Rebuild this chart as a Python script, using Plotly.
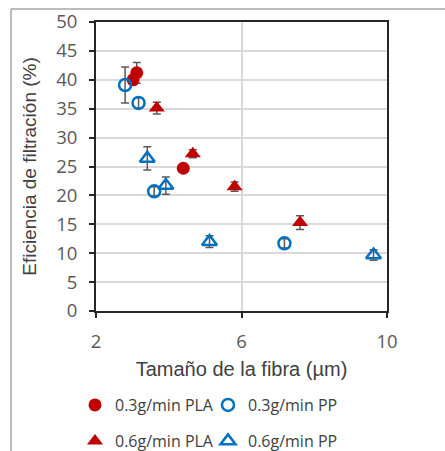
import plotly.graph_objects as go

# Data (fiber size in µm, filtration efficiency in %, error)
pla03_x = [3.02, 3.12, 4.40]
pla03_y = [40.0, 41.2, 24.7]
pla03_e = [0.8, 1.8, 0.5]

pp03_x = [2.80, 3.17, 3.60, 7.18]
pp03_y = [39.1, 36.0, 20.7, 11.7]
pp03_e = [3.1, 0.9, 0.8, 0.8]

pla06_x = [3.67, 4.66, 5.81, 7.61]
pla06_y = [35.1, 27.2, 21.5, 15.3]
pla06_e = [1.0, 0.7, 0.8, 1.2]

pp06_x = [3.41, 3.92, 5.12, 9.63]
pp06_y = [26.4, 21.7, 12.0, 9.7]
pp06_e = [2.0, 1.5, 1.0, 0.9]

names = ["0.3g/min PLA", "0.3g/min PP", "0.6g/min PLA", "0.6g/min PP"]

RED = "#C00000"
BLUE = "#0070C0"
ERR = "#595959"

fig = go.Figure()

def add(x, y, e, name, symbol, size, color, filled, legend):
    fig.add_trace(go.Scatter(
        x=x, y=y, mode="markers", name=name, legend=legend,
        error_y=dict(type="data", array=e, visible=True, color=ERR, thickness=1.5, width=4),
        marker=dict(symbol=symbol, size=size,
                    color=color if filled else "rgba(255,255,255,0)",
                    line=dict(color=color, width=0 if filled else 2.5)),
    ))

add(pla03_x, pla03_y, pla03_e, names[0], "circle", 13, RED, True, "legend")
add(pp03_x, pp03_y, pp03_e, names[1], "circle", 12, BLUE, False, "legend")
add(pla06_x, pla06_y, pla06_e, names[2], "triangle-up", 14, RED, True, "legend2")
add(pp06_x, pp06_y, pp06_e, names[3], "triangle-up", 13, BLUE, False, "legend2")

L, R, T, B = 96, 58, 22, 140
W, H = 445, 451
pw, ph = W - L - R, H - T - B

def px2x(px):
    return (px - L) / pw

def py2y(py):
    return (H - B - py) / ph

tickfont = dict(family="Open Sans, Liberation Sans, sans-serif", size=18.5, color="#595959")
ytitlefont = dict(family="Liberation Sans, Arial, sans-serif", size=19, color="#404040")
xtitlefont = dict(family="Liberation Sans, Arial, sans-serif", size=20, color="#404040")
legfont = dict(family="Open Sans, Liberation Sans, sans-serif", size=16, color="#404040")

fig.update_layout(
    width=W, height=H,
    margin=dict(l=L, r=R, t=T, b=B, autoexpand=False),
    paper_bgcolor="white", plot_bgcolor="white",
    xaxis=dict(range=[2, 10], dtick=4, tick0=2, showgrid=True, gridcolor="#D9D9D9", gridwidth=1.5,
               showline=True, linecolor="#262626", linewidth=2, mirror=True,
               ticks="outside", ticklen=5, tickcolor="#262626", tickwidth=1.5,
               tickfont=tickfont, zeroline=False, ticklabelstandoff=8,
               title=dict(text="Tamaño de la fibra (µm)", font=xtitlefont, standoff=10)),
    yaxis=dict(range=[0, 50], dtick=5, showgrid=True, gridcolor="#D9D9D9", gridwidth=1.5,
               showline=True, linecolor="#262626", linewidth=2, mirror=True,
               ticks="outside", ticklen=5, tickcolor="#262626", tickwidth=1.5,
               tickfont=tickfont, zeroline=False, ticklabelstandoff=8,
               title=dict(text="Eficiencia de filtración (%)", font=ytitlefont, standoff=14)),
    legend=dict(orientation="h", x=px2x(75), y=py2y(405), xanchor="left", yanchor="middle",
                font=legfont, itemwidth=30, tracegroupgap=0, entrywidth=88,
                bgcolor="rgba(0,0,0,0)"),
    legend2=dict(orientation="h", x=px2x(75), y=py2y(441), xanchor="left", yanchor="middle",
                 font=legfont, itemwidth=30, tracegroupgap=0, entrywidth=88,
                 bgcolor="rgba(0,0,0,0)"),
    showlegend=True,
    shapes=[
        dict(type="line", xref="paper", yref="paper", x0=px2x(11), x1=px2x(445), y0=py2y(9), y1=py2y(9),
             line=dict(color="#A6A6A6", width=1.5)),
        dict(type="line", xref="paper", yref="paper", x0=px2x(11), x1=px2x(11), y0=py2y(9), y1=py2y(451),
             line=dict(color="#A6A6A6", width=1.5)),
    ],
)

fig.write_html("out.html")
